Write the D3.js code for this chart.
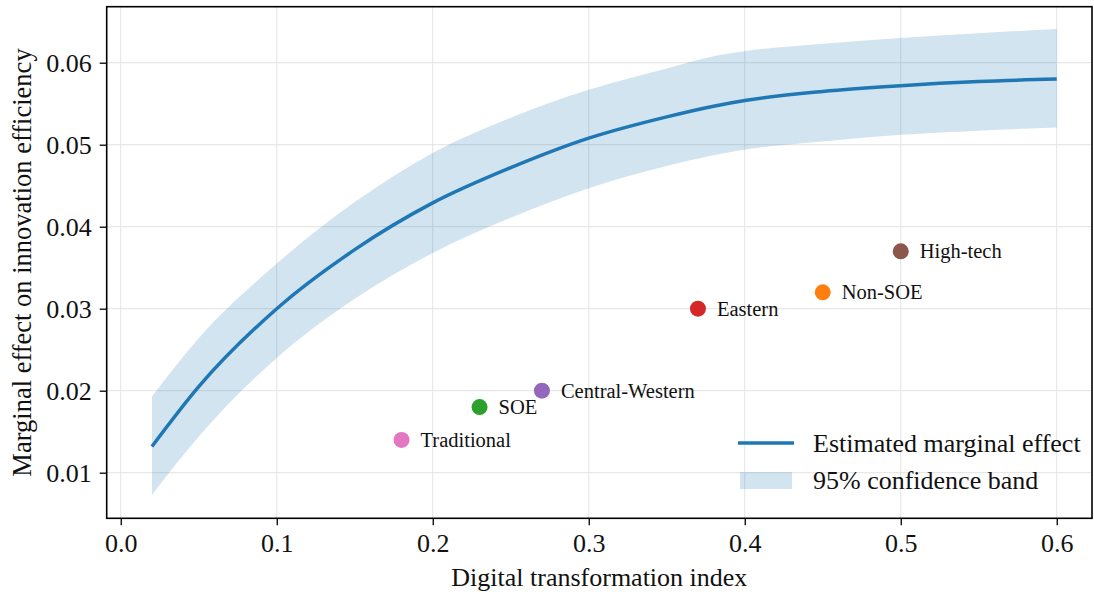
<!DOCTYPE html>
<html>
<head>
<meta charset="UTF-8">
<script src="https://d3js.org/d3.v7.min.js"></script>
<style>
  body { margin: 0; background: #fff; }
  text { font-family: "Liberation Serif", "Times New Roman", serif; fill: #111; }
</style>
</head>
<body>
<script>
// digital transformation index grid and estimated effect
const xs    = [0.02, 0.05, 0.10, 0.15, 0.20, 0.25, 0.30, 0.35, 0.38, 0.40, 0.45, 0.50, 0.55, 0.60];
const est   = [0.0132, 0.0205, 0.0300, 0.0372, 0.0429, 0.0472, 0.0508, 0.0534, 0.0547, 0.0554, 0.0565, 0.0572, 0.0577, 0.0580];
const upper = [0.0193, 0.0264, 0.0355, 0.0430, 0.0490, 0.0533, 0.0567, 0.0593, 0.0608, 0.0614, 0.0623, 0.0630, 0.0636, 0.0641];
const lower = [0.0073, 0.0144, 0.0240, 0.0312, 0.0368, 0.0411, 0.0447, 0.0474, 0.0487, 0.0494, 0.0504, 0.0512, 0.0517, 0.0521];

// subgroup points
const groups  = ["Traditional", "SOE", "Central-Western", "Eastern", "Non-SOE", "High-tech"];
const groupX  = [0.18, 0.23, 0.27, 0.37, 0.45, 0.50];
const groupY  = [0.014, 0.018, 0.020, 0.030, 0.032, 0.037];
const groupCl = ["#e377c2", "#2ca02c", "#9467bd", "#d62728", "#ff7f0e", "#8c564b"];

const xTicks = [0.0, 0.1, 0.2, 0.3, 0.4, 0.5, 0.6];
const yTicks = [0.01, 0.02, 0.03, 0.04, 0.05, 0.06];

const W = 1094, H = 592;
const pL = 106.7, pR = 1092, pT = 6.7, pB = 518.3;

const svg = d3.select("body").append("svg")
  .attr("width", W).attr("height", H);

const x = d3.scaleLinear().domain([-0.009, 0.6226]).range([pL, pR]);
const y = d3.scaleLinear().domain([0.004439, 0.06683]).range([pB, pT]);

// grid
svg.append("g").selectAll("line").data(xTicks).enter().append("line")
  .attr("x1", d => x(d)).attr("x2", d => x(d))
  .attr("y1", pT).attr("y2", pB)
  .attr("stroke", "#e3e3e3").attr("stroke-width", 1);
svg.append("g").selectAll("line").data(yTicks).enter().append("line")
  .attr("y1", d => y(d)).attr("y2", d => y(d))
  .attr("x1", pL).attr("x2", pR)
  .attr("stroke", "#e3e3e3").attr("stroke-width", 1);

const pts = xs.map((v, i) => ({x: v, m: est[i], lo: lower[i], hi: upper[i]}));

// confidence band
svg.append("path")
  .datum(pts)
  .attr("d", d3.area().curve(d3.curveMonotoneX)
    .x(d => x(d.x)).y0(d => y(d.lo)).y1(d => y(d.hi)))
  .attr("fill", "#1f77b4").attr("fill-opacity", 0.2);

// estimated line
svg.append("path")
  .datum(pts)
  .attr("d", d3.line().curve(d3.curveMonotoneX).x(d => x(d.x)).y(d => y(d.m)))
  .attr("fill", "none").attr("stroke", "#1f77b4").attr("stroke-width", 3.5);

// subgroup markers + labels
const g = svg.append("g").selectAll("g").data(groups).enter().append("g");
g.append("circle")
  .attr("cx", (d, i) => x(groupX[i])).attr("cy", (d, i) => y(groupY[i]))
  .attr("r", 8).attr("fill", (d, i) => groupCl[i]);
g.append("text")
  .attr("x", (d, i) => x(groupX[i]) + 19).attr("y", (d, i) => y(groupY[i]))
  .attr("dy", "0.35em").attr("font-size", 20.5)
  .text(d => d);

// axes
const xAxis = svg.append("g").attr("transform", "translate(0," + pB + ")")
  .call(d3.axisBottom(x).tickValues(xTicks).tickFormat(d3.format(".1f")).tickSize(7).tickPadding(8));
const yAxis = svg.append("g").attr("transform", "translate(" + pL + ",0)")
  .call(d3.axisLeft(y).tickValues(yTicks).tickFormat(d3.format(".2f")).tickSize(7).tickPadding(8));
[xAxis, yAxis].forEach(a => {
  a.select(".domain").remove();
  a.selectAll(".tick line").attr("stroke", "#000").attr("stroke-width", 1.3);
  a.selectAll(".tick text").attr("font-size", 26)
    .attr("font-family", "'Liberation Serif', serif").attr("fill", "#111");
});

// frame
svg.append("rect")
  .attr("x", pL).attr("y", pT).attr("width", pR - pL).attr("height", pB - pT)
  .attr("fill", "none").attr("stroke", "#000").attr("stroke-width", 1.6);

// axis titles
svg.append("text")
  .attr("x", (pL + pR) / 2).attr("y", 586)
  .attr("text-anchor", "middle").attr("font-size", 26)
  .text("Digital transformation index");
svg.append("text")
  .attr("transform", "translate(31," + ((pT + pB) / 2) + ") rotate(-90)")
  .attr("text-anchor", "middle").attr("font-size", 26.5)
  .text("Marginal effect on innovation efficiency");

// legend
const lg = svg.append("g");
lg.append("line")
  .attr("x1", 738).attr("x2", 794).attr("y1", 443).attr("y2", 443)
  .attr("stroke", "#1f77b4").attr("stroke-width", 3.5);
lg.append("rect")
  .attr("x", 740).attr("y", 472).attr("width", 52).attr("height", 17)
  .attr("fill", "#1f77b4").attr("fill-opacity", 0.2);
lg.append("text").attr("x", 813).attr("y", 443).attr("dy", "0.35em")
  .attr("font-size", 26).text("Estimated marginal effect");
lg.append("text").attr("x", 813).attr("y", 480).attr("dy", "0.35em")
  .attr("font-size", 26).text("95% confidence band");
</script>
</body>
</html>
